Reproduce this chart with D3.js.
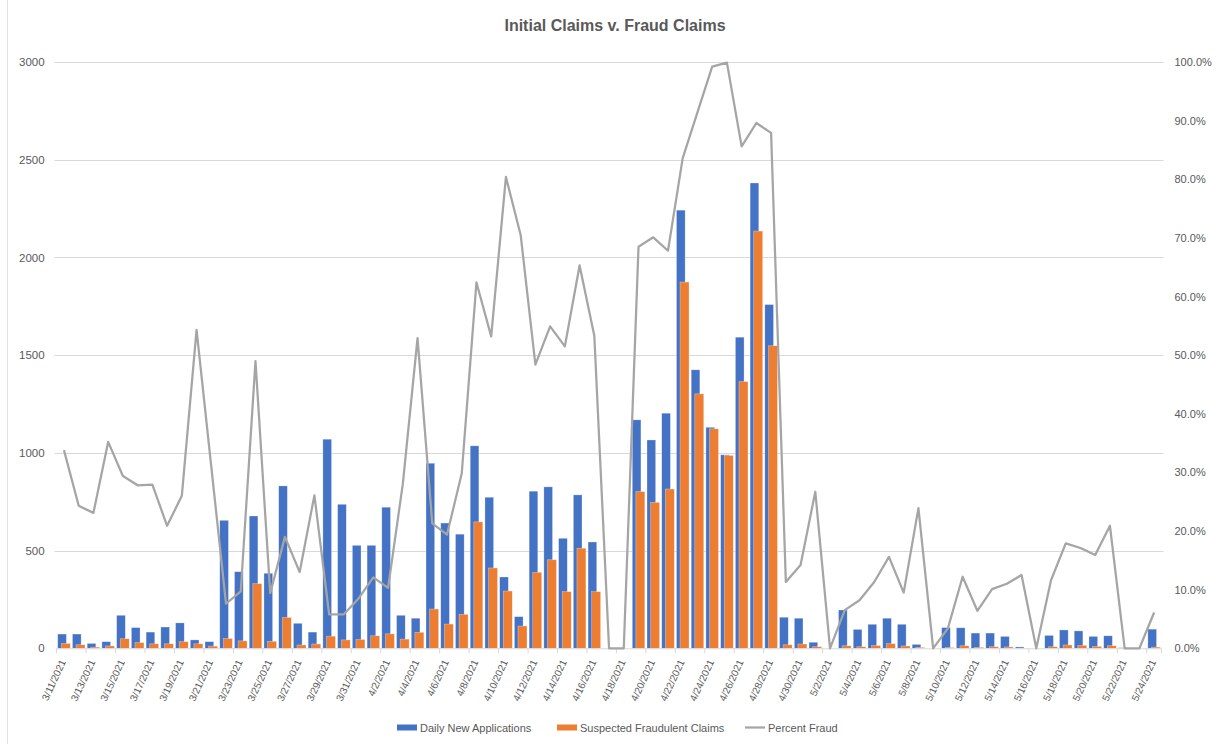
<!DOCTYPE html>
<html><head><meta charset="utf-8">
<script src="https://cdn.jsdelivr.net/npm/d3@7"></script>
<style>
html,body{margin:0;padding:0;background:#fff;}
svg{display:block;font-family:"Liberation Sans",Arial,sans-serif;}
</style></head>
<body><svg id="chart" width="1220" height="744"></svg>
<script>
const dates = ["3/11/2021","3/12/2021","3/13/2021","3/14/2021","3/15/2021","3/16/2021","3/17/2021","3/18/2021","3/19/2021","3/20/2021",
"3/21/2021","3/22/2021","3/23/2021","3/24/2021","3/25/2021","3/26/2021","3/27/2021","3/28/2021","3/29/2021","3/30/2021",
"3/31/2021","4/1/2021","4/2/2021","4/3/2021","4/4/2021","4/5/2021","4/6/2021","4/7/2021","4/8/2021","4/9/2021",
"4/10/2021","4/11/2021","4/12/2021","4/13/2021","4/14/2021","4/15/2021","4/16/2021","4/17/2021","4/18/2021","4/19/2021",
"4/20/2021","4/21/2021","4/22/2021","4/23/2021","4/24/2021","4/25/2021","4/26/2021","4/27/2021","4/28/2021","4/29/2021",
"4/30/2021","5/1/2021","5/2/2021","5/3/2021","5/4/2021","5/5/2021","5/6/2021","5/7/2021","5/8/2021","5/9/2021",
"5/10/2021","5/11/2021","5/12/2021","5/13/2021","5/14/2021","5/15/2021","5/16/2021","5/17/2021","5/18/2021","5/19/2021",
"5/20/2021","5/21/2021","5/22/2021","5/23/2021","5/24/2021"];

const dailyNewApplications = [73,73,25,34,169,106,83,109,130,43,
34,655,392,677,384,831,128,83,1070,737,
527,527,722,169,154,947,641,584,1036,773,
365,162,804,826,563,785,544,0,0,1169,
1066,1203,2242,1425,1131,990,1592,2381,1759,159,
154,31,0,196,97,123,154,123,20,0,
106,105,78,78,61,7,0,66,94,89,
61,64,3,0,98];

const suspectedFraudulentClaims = [25,18,6,12,49,29,23,23,34,23,
11,50,38,331,36,158,17,22,62,43,
45,64,74,47,82,201,124,174,647,411,
293,114,389,453,290,512,290,0,0,802,
747,815,1874,1302,1123,987,1365,2135,1548,18,
22,8,0,13,8,14,24,12,5,0,
4,13,5,8,7,1,0,8,17,15,
10,13,0,0,6];

const percentFraud = [0.338,0.243,0.231,0.352,0.294,0.278,0.279,0.209,0.260,0.543,
0.310,0.076,0.097,0.490,0.094,0.190,0.130,0.261,0.058,0.058,
0.085,0.121,0.103,0.280,0.529,0.213,0.194,0.298,0.624,0.532,
0.804,0.705,0.484,0.549,0.515,0.653,0.533,0,0,0.685,
0.701,0.678,0.836,0.914,0.992,0.999,0.856,0.896,0.879,0.113,
0.142,0.267,0,0.065,0.082,0.113,0.156,0.095,0.239,0,
0.034,0.122,0.064,0.101,0.110,0.125,0,0.116,0.179,0.171,
0.159,0.209,0,0,0.061];

const leftTicks = [0,500,1000,1500,2000,2500,3000];
const rightTicks = [0,0.1,0.2,0.3,0.4,0.5,0.6,0.7,0.8,0.9,1.0];

const title = "Initial Claims v. Fraud Claims";
const seriesNames = ["Daily New Applications","Suspected Fraudulent Claims","Percent Fraud"];
const colors = {blue:"#4472C4", orange:"#ED7D31", grey:"#A5A5A5", text:"#595959", grid:"#D9D9D9"};

const svg = d3.select("#chart");
const plotLeft = 56.6, plotRight = 1161.5, plotTop = 62, plotBottom = 648.3;

const x = d3.scaleBand().domain(dates).range([plotLeft, plotRight]).padding(0);
const y = d3.scaleLinear().domain([0,3000]).range([plotBottom, plotTop]);
const y2 = d3.scaleLinear().domain([0,1]).range([plotBottom, plotTop]);
const bw = x.bandwidth();

// chart border (left)
svg.append("line").attr("x1",7.5).attr("x2",7.5).attr("y1",0).attr("y2",744)
  .attr("stroke","#E3E3E3").attr("stroke-width",1);

// title
svg.append("text").attr("x",615).attr("y",31).attr("text-anchor","middle")
  .attr("font-size",16).attr("font-weight","bold").attr("fill",colors.text).text(title);

// gridlines
svg.append("g").selectAll("line").data(leftTicks.slice(1)).join("line")
  .attr("x1",plotLeft-2).attr("x2",plotRight+2)
  .attr("y1",d=>Math.round(y(d))+0.5).attr("y2",d=>Math.round(y(d))+0.5)
  .attr("stroke",colors.grid).attr("stroke-width",1);

// left axis
const leftAxis = d3.axisLeft(y).tickValues(leftTicks).tickSize(0).tickPadding(0).tickFormat(d3.format("d"));
const gl = svg.append("g").attr("transform",`translate(${plotLeft-12},0)`).call(leftAxis);
gl.select(".domain").remove();
gl.selectAll("text").attr("font-size",11.5).attr("fill",colors.text).attr("font-family","'Liberation Sans',Arial,sans-serif");

// right axis
const rightAxis = d3.axisRight(y2).tickValues(rightTicks).tickSize(0).tickPadding(0).tickFormat(d3.format(".1%"));
const gr = svg.append("g").attr("transform",`translate(${plotRight+13},0)`).call(rightAxis);
gr.select(".domain").remove();
gr.selectAll("text").attr("font-size",11).attr("fill",colors.text).attr("font-family","'Liberation Sans',Arial,sans-serif");

// bars
const idx = d3.range(dates.length);
svg.append("g").selectAll("rect").data(idx).join("rect")
  .attr("x",i=>x(dates[i]) + bw*0.075).attr("width",bw*0.59)
  .attr("y",i=>y(dailyNewApplications[i])).attr("height",i=>plotBottom - y(dailyNewApplications[i]))
  .attr("fill",colors.blue).attr("stroke","#fff").attr("stroke-opacity",0.5).attr("stroke-width",0.6);
svg.append("g").selectAll("rect").data(idx).join("rect")
  .attr("x",i=>x(dates[i]) + bw*0.32).attr("width",bw*0.61)
  .attr("y",i=>y(suspectedFraudulentClaims[i])).attr("height",i=>plotBottom - y(suspectedFraudulentClaims[i]))
  .attr("fill",colors.orange).attr("stroke","#fff").attr("stroke-opacity",0.5).attr("stroke-width",0.6);

// x axis line and ticks
svg.append("line").attr("x1",plotLeft).attr("x2",plotRight).attr("y1",plotBottom+0.5).attr("y2",plotBottom+0.5)
  .attr("stroke",colors.grid).attr("stroke-width",1);
const labelIdx = idx.filter(i=>i%2===0);
svg.append("g").selectAll("line").data(labelIdx.concat([dates.length])).join("line")
  .attr("x1",i=> (i<dates.length? x(dates[i]) : plotRight)).attr("x2",i=> (i<dates.length? x(dates[i]) : plotRight))
  .attr("y1",plotBottom).attr("y2",plotBottom+5)
  .attr("stroke",colors.grid).attr("stroke-width",1);

// x labels
svg.append("g").selectAll("text").data(labelIdx).join("text")
  .attr("transform",i=>`translate(${x(dates[i])+bw/2-1},${plotBottom+12}) rotate(-65)`)
  .attr("text-anchor","end").attr("dy","0.35em")
  .attr("font-size",10).attr("fill",colors.text).text(i=>dates[i]);

// percent line
const line = d3.line().x((d,i)=>x(dates[i])+bw/2).y(d=>y2(d));
svg.append("path").datum(percentFraud).attr("d",line)
  .attr("fill","none").attr("stroke",colors.grey).attr("stroke-width",2.25).attr("stroke-linejoin","round");

// legend
const leg = svg.append("g");
leg.append("rect").attr("x",397).attr("y",724.5).attr("width",20).attr("height",6).attr("fill",colors.blue);
leg.append("text").attr("x",420).attr("y",731.5).attr("font-size",11).attr("fill",colors.text).text(seriesNames[0]);
leg.append("rect").attr("x",557).attr("y",724.5).attr("width",20).attr("height",6).attr("fill",colors.orange);
leg.append("text").attr("x",580).attr("y",731.5).attr("font-size",11).attr("fill",colors.text).text(seriesNames[1]);
leg.append("line").attr("x1",745).attr("x2",765).attr("y1",727.5).attr("y2",727.5).attr("stroke",colors.grey).attr("stroke-width",2.25);
leg.append("text").attr("x",768).attr("y",731.5).attr("font-size",11).attr("fill",colors.text).text(seriesNames[2]);
</script></body></html>
